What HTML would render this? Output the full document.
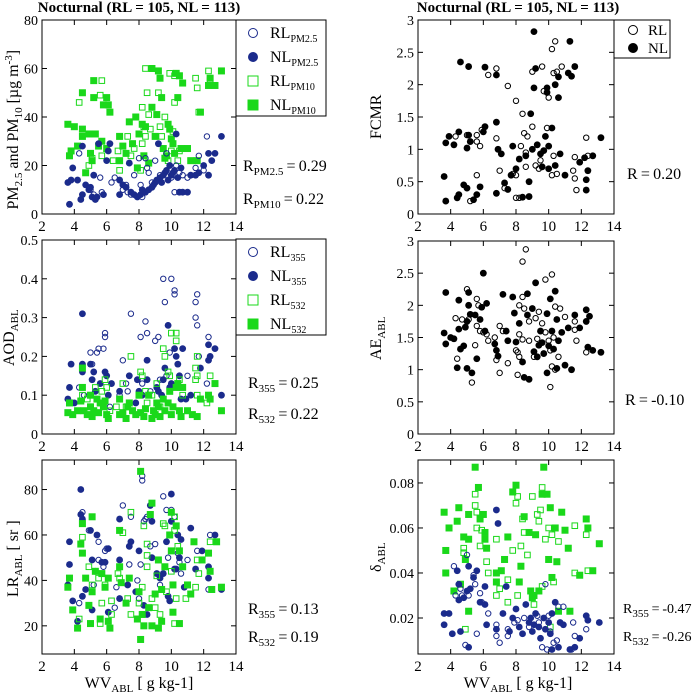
<!DOCTYPE html>
<html><head><meta charset="utf-8"><style>
html,body{margin:0;padding:0;background:#fff;}
svg, svg text{font-family:"Liberation Serif","DejaVu Serif",serif;}
</style></head><body>
<svg id="c" width="695" height="695" viewBox="0 0 695 695" font-family="Liberation Serif, serif"></svg>
<script>
// ---------- data ----------
const pm25RL=[[4.3,25],[5.6,15],[5.7,9],[6.3,13],[6.5,15],[6.8,14],[7,10],[7.2,12],[7.5,8],[7.7,16],[8,23],[8.2,7],[8.1,12],[8.4,23],[8.6,17],[8.8,13],[9,22],[9.3,16],[9.7,25],[10.2,9],[10.3,20],[10.5,17],[10.7,16],[11.5,19],[11.7,24],[12.2,32],[9.9,20],[10,15],[8.5,19],[7.3,9],[5,10],[5.2,8],[11,15],[12,18]];
const pm25NL=[[3.6,13],[3.7,4],[3.8,14],[3.9,19],[4.2,14],[4.4,6],[4.5,8],[4.5,28],[4.7,12],[4.9,10],[5,11],[5.1,7],[5.2,16],[5.3,6],[5.4,7],[5.5,29],[5.8,8],[6,22],[6.1,26],[6.2,29],[6.8,14],[6.8,8],[7,12],[7.2,11],[7.4,21],[7.5,9],[7.7,8],[7.9,7],[8.1,8],[8.2,10],[8.4,9],[8.6,10],[8.8,11],[9,13],[9.1,14],[9.2,29],[9.3,15],[9.5,16],[9.6,17],[9.7,18],[9.8,14],[9.9,20],[10,16],[10.1,17],[10.2,18],[10.3,33],[10.4,15],[10.5,9],[10.7,9],[11,9],[11.2,16],[11.5,16],[11.7,17],[12,20],[12.3,16],[12.3,25],[12.5,22],[12.7,25],[13.1,32],[8.9,12],[9.4,13],[10.6,19]];
const pm10RL=[[4.3,46],[4.9,20],[5.1,23],[5.7,55],[5.6,49],[5.7,24],[6.4,22],[6.7,26],[6.8,18],[7.3,32],[7.5,24],[7.7,27],[8.2,44],[8.2,29],[8.3,36],[8.4,60],[8.4,32],[8.5,50],[8.6,41],[8.7,35],[9.2,50],[9.3,36],[9.4,32],[9.6,40],[9.9,58],[10,26],[10.2,46],[10.2,57],[10.4,22],[10.5,26],[11.5,56],[11.6,52],[11.7,42],[12.3,59],[12.4,55],[9.8,22],[10.1,34],[8.1,18]];
const pm10NL=[[3.6,37],[3.7,24],[3.8,26],[4,36],[4.2,28],[4.5,35],[4.5,50],[4.5,32],[4.7,17],[4.9,33],[5,25],[5.1,22],[5.2,55],[5.2,48],[5.3,33],[5.5,28],[5.7,30],[5.8,45],[6,48],[6.1,45],[6.2,42],[6.0,27],[6.8,32],[6.8,22],[7.0,28],[7.2,25],[7.4,38],[7.6,29],[7.8,40],[7.9,19],[8.0,33],[8.2,37],[8.3,24],[8.4,36],[8.6,21],[8.8,60],[8.8,44],[9.0,32],[9.1,41],[9.2,59],[9.3,56],[9.4,48],[9.5,27],[9.6,23],[9.8,37],[9.9,35],[10.0,31],[10.1,29],[10.3,58],[10.4,48],[10.5,57],[10.6,27],[10.7,54],[11.0,27],[11.2,22],[11.6,22],[11.8,42],[12.3,53],[12.4,56],[12.7,53],[13.1,59],[9.7,24],[10.2,25]];
const aod355RL=[[4.3,0.12],[4.6,0.1],[5,0.21],[5.1,0.18],[5.4,0.21],[5.5,0.22],[5.8,0.22],[5.9,0.26],[5.9,0.25],[6.2,0.07],[6.8,0.1],[7,0.19],[7.2,0.13],[7.3,0.11],[7.5,0.31],[8.1,0.25],[8.2,0.13],[8.4,0.29],[8.5,0.26],[8.5,0.19],[9,0.24],[9.2,0.25],[9.5,0.4],[9.6,0.34],[9.8,0.28],[10,0.4],[10.2,0.37],[10.2,0.36],[9.9,0.21],[9.7,0.15],[11,0.15],[11.5,0.34],[11.5,0.3],[11.6,0.36],[11.6,0.28],[11.7,0.2],[12.3,0.25],[12.2,0.13],[8.7,0.11],[9.3,0.14],[10.4,0.12]];
const aod355NL=[[3.6,0.09],[3.7,0.12],[3.8,0.18],[4,0.08],[4.5,0.31],[4.5,0.18],[4.5,0.16],[5,0.18],[5.1,0.14],[5.2,0.16],[5.3,0.11],[5.6,0.13],[5.9,0.16],[6,0.15],[6.1,0.1],[6.3,0.13],[6.8,0.11],[7.4,0.15],[7.8,0.08],[7.9,0.14],[8,0.11],[8.2,0.1],[8.5,0.14],[8.5,0.19],[9.2,0.11],[9.4,0.1],[9.5,0.14],[9.6,0.17],[9.8,0.28],[9.9,0.12],[10,0.13],[10.2,0.22],[10.3,0.2],[10.4,0.18],[10.5,0.15],[10.7,0.22],[10.9,0.09],[11.2,0.1],[11.8,0.17],[12.3,0.23],[12.3,0.19],[12.4,0.2],[12.7,0.22],[13.1,0.1],[10.6,0.09],[9.1,0.12]];
const aod532RL=[[4.5,0.1],[4.8,0.09],[5.3,0.12],[5.7,0.11],[5.9,0.14],[6,0.12],[6.2,0.06],[7,0.13],[7.2,0.07],[7.5,0.2],[8.1,0.16],[8.2,0.15],[8.4,0.11],[8.5,0.08],[9.1,0.13],[9.5,0.22],[9.6,0.2],[9.8,0.16],[9.9,0.15],[10,0.26],[10.3,0.26],[10.3,0.24],[10.5,0.14],[10.7,0.1],[11.5,0.17],[11.5,0.14],[11.6,0.15],[11.6,0.2],[11.6,0.1],[12.2,0.08],[12.4,0.15],[9.3,0.07],[6.6,0.07],[8.8,0.1]];
const aod532NL=[[3.6,0.055],[3.7,0.08],[3.9,0.05],[4.2,0.06],[4.5,0.17],[4.4,0.085],[4.5,0.12],[4.6,0.06],[4.8,0.05],[5,0.1],[5,0.07],[5.1,0.045],[5.2,0.06],[5.4,0.09],[5.6,0.08],[5.8,0.07],[5.9,0.085],[6,0.05],[6.1,0.04],[6.8,0.09],[6.8,0.05],[7,0.055],[7.2,0.04],[7.4,0.08],[7.6,0.06],[7.8,0.05],[8,0.1],[8.1,0.055],[8.3,0.045],[8.4,0.065],[8.6,0.1],[8.8,0.04],[9,0.05],[9.2,0.07],[9.3,0.045],[9.5,0.09],[9.6,0.06],[9.8,0.08],[9.9,0.11],[10,0.05],[10.1,0.07],[10.3,0.12],[10.4,0.13],[10.5,0.06],[10.6,0.045],[10.7,0.12],[11,0.06],[11.3,0.05],[11.6,0.045],[11.8,0.09],[12.3,0.1],[12.4,0.09],[12.7,0.13],[13.1,0.06],[9.1,0.08],[8.9,0.06],[7.3,0.07],[5.5,0.055]];
const lr355RL=[[4.3,30],[4.5,70],[4.9,62],[5.2,38],[5.5,57],[5.5,49],[5.8,46],[5.9,53],[6,54],[6.5,28],[7,73],[7.5,68],[7.4,47],[8,32],[8.1,47],[8.2,84],[8.2,86],[8.3,66],[8.4,67],[8.5,68],[8.7,55],[9,56],[9.2,49],[9.5,77],[9.7,71],[9.8,50],[10,71],[10.2,68],[10.4,52],[10.5,48],[10.6,43],[11,49],[11.6,53],[12.3,36],[12.4,60],[9.3,38],[7.9,40],[6.6,37]];
const lr355NL=[[3.6,38],[3.7,57],[3.7,47],[3.9,31],[4.2,22],[4.4,80],[4.4,69],[4.5,67],[4.5,33],[4.7,36],[5,62],[5.1,49],[5.1,27],[5.3,44],[5.4,60],[5.7,48],[5.9,48],[6.1,54],[6.1,26],[6.8,67],[6.8,49],[6.8,32],[7.3,38],[7.5,57],[7.4,55],[7.8,35],[8,53],[8.3,29],[8.5,25],[8.7,73],[8.8,66],[8.8,50],[9.1,43],[9.3,41],[9.5,43],[9.7,57],[9.8,33],[10,78],[10,66],[10.2,45],[10.3,45],[10.4,60],[10.5,50],[10.6,58],[11.2,63],[11.5,45],[11.9,53],[12.3,46],[12.3,41],[12.7,60],[13.1,36],[9.9,31],[10.8,37]];
const lr532RL=[[4.3,23],[4.5,59],[4.9,46],[5.1,38],[5.5,41],[5.6,21],[5.7,30],[5.9,38],[6.3,31],[6.3,25],[6.7,43],[6.8,41],[7,61],[7.3,32],[7.5,70],[7.5,25],[8,30],[8.2,37],[8.3,64],[8.5,51],[8.5,56],[8.5,46],[8.8,32],[9.1,42],[9.3,25],[9.5,65],[9.6,64],[9.7,35],[10,44],[10.2,68],[10.2,21],[10.2,62],[10.3,32],[10.4,55],[10.9,32],[11.5,37],[11.6,49],[11.7,43],[12.4,57],[9,28]];
const lr532NL=[[3.6,37],[3.7,41],[3.9,27],[4.2,19],[4.4,56],[4.5,65],[4.5,52],[4.7,41],[4.9,29],[5,21],[5.1,68],[5.1,35],[5.3,44],[5.6,23],[5.7,43],[5.9,37],[6.1,22],[6.1,41],[6.2,19],[6.8,62],[6.8,46],[6.9,39],[7.2,30],[7.4,41],[7.9,23],[8,35],[8.1,88],[8.1,14],[8.2,25],[8.3,20],[8.7,69],[8.8,74],[8.8,20],[9,34],[9.2,49],[9.2,19],[9.4,22],[9.6,46],[9.9,60],[10,70],[10,53],[10.1,38],[10.1,26],[10.3,64],[10.5,53],[10.5,21],[10.7,46],[11,38],[11.2,34],[11.4,57],[11.9,49],[12.3,52],[12.4,44],[12.5,36],[12.8,57],[13.1,37],[9.4,36],[8.6,28]];
const fcmrRL=[[4.3,1.2],[5,1.22],[5.6,1.22],[5.6,1.12],[5.8,1.05],[5.9,1.3],[6.1,1.35],[6.3,2.15],[6.8,2.25],[6.8,1.17],[7.3,0.4],[7.5,1.98],[7.8,0.62],[8,1.75],[8,0.6],[8,0.25],[8.2,0.25],[8.3,1.05],[8.4,1.55],[8.5,1.25],[8.6,0.95],[8.7,1.2],[9,1.35],[9,2.2],[9.2,0.75],[9.4,0.7],[9.6,2.28],[9.7,1.9],[10,1.8],[10.2,2.55],[10.4,2.67],[10.3,2.18],[10.5,2.2],[10.8,2.28],[10.2,0.6],[10.3,0.9],[10.5,0.62],[11.5,0.67],[11.6,0.88],[11.7,0.37],[11.6,0.55],[12.3,1.18],[12.4,0.9],[5.2,0.2],[5.6,0.6],[7,0.67],[8.6,0.73],[9.9,1.33],[9.5,0.83]];
const fcmrNL=[[3.6,0.58],[3.7,1.1],[3.7,0.2],[3.9,1.2],[4.2,1.07],[4.4,0.25],[4.5,0.3],[4.5,1.27],[4.6,2.35],[4.8,0.45],[5,1.02],[5,0.4],[5.1,2.28],[5.1,1.22],[5.2,1.12],[5.4,0.22],[5.6,0.3],[5.8,0.42],[6,1.27],[6.1,2.27],[6.1,1.35],[6.8,1.42],[6.8,2.15],[6.8,0.32],[6.9,1],[7.1,0.93],[7.3,0.48],[7.5,0.38],[7.7,0.6],[7.8,1.05],[8,0.7],[8.2,0.85],[8.4,0.26],[8.6,0.9],[8.8,0.5],[8.9,1.55],[9,1],[9.1,2.82],[9.1,1.95],[9.2,2.25],[9.3,1.07],[9.5,0.93],[9.6,0.73],[9.7,0.98],[9.9,1.95],[10,1.05],[10,0.7],[10.2,1.33],[10.4,0.75],[10.6,2.12],[10.6,1.8],[10.7,0.93],[11,0.6],[11.2,2.18],[11.3,2.67],[11.6,2.28],[11.4,2.13],[11.9,0.8],[12.2,0.87],[12.3,0.37],[12.3,0.53],[12.4,0.67],[12.7,0.9],[13.2,1.18],[10.4,2.0],[9.9,1.88],[8.8,0.27],[9.8,1.2]];
const aeRL=[[4.3,1.8],[4.4,1.17],[4.7,1.78],[5,2.25],[5.1,1.78],[5.3,0.8],[5.5,1.38],[5.6,2.1],[5.7,2.0],[5.6,1.68],[5.8,1.6],[6,1.58],[6.3,1.45],[6.2,1.55],[6.8,1.15],[6.7,1.5],[7,1.68],[7,0.95],[7.2,1.6],[7.5,1.1],[8,1.3],[8.1,1.27],[8.1,0.92],[8.2,2.0],[8.2,1.55],[8.2,1.2],[8.4,2.68],[8.6,2.87],[8.4,2.13],[8.5,1.95],[8.4,1.47],[8.8,1.75],[8.8,1.45],[9.1,1.2],[9.3,1.48],[9.4,1.9],[9.6,1.72],[9.8,2.4],[9.8,1.58],[10,1.45],[10.2,2.48],[10.1,1.3],[10.1,0.73],[10.2,1.05],[10.4,1.0],[10.4,1.98],[10.6,1.2],[10.7,1.95],[11,1.82],[11.6,1.75],[11.6,1.62],[11.7,1.45],[12.3,1.27],[9.2,1.8],[10.3,1.5]];
const aeNL=[[3.6,1.57],[3.7,2.2],[3.7,1.4],[4,1.5],[4.2,1.48],[4.4,1.03],[4.5,2.08],[4.5,1.63],[4.6,1.32],[4.8,1.37],[4.9,1.66],[5,1.75],[5,1.02],[5.1,2.2],[5.1,2.0],[5.2,1.86],[5.3,0.95],[5.5,1.85],[5.6,1.17],[5.8,1.78],[5.9,1.97],[6,2.5],[6.2,2.03],[6.1,1.6],[6.7,1.4],[6.8,1.3],[6.9,1.21],[7.2,2.17],[7.4,1.6],[7.5,1.45],[7.8,2.13],[7.9,1.88],[8,1.43],[8.2,1.72],[8.4,1.12],[8.5,0.88],[8.7,1.85],[8.7,2.18],[8.8,0.85],[9.0,1.95],[9.1,1.28],[9.2,2.35],[9.3,1.2],[9.4,1.38],[9.6,1.42],[9.7,1.25],[9.9,0.95],[9.9,1.87],[10.0,1.37],[10.1,2.1],[10.2,1.6],[10.4,2.22],[10.5,1.02],[10.5,1.78],[10.6,1.45],[10.8,1.58],[11.0,1.07],[11.2,1.65],[11.4,1.0],[11.6,1.85],[11.9,1.65],[12.3,1.93],[12.3,1.75],[12.4,1.35],[12.5,1.83],[12.7,1.3],[13.2,1.27],[9.5,1.6],[10.3,1.32]];
const dep355RL=[[4.3,0.03],[4.6,0.033],[4.7,0.03],[4.9,0.008],[5,0.048],[5.1,0.03],[5.4,0.039],[5.5,0.035],[5.6,0.013],[5.8,0.031],[5.9,0.027],[6.3,0.022],[6.8,0.017],[6.8,0.012],[7.0,0.009],[7.5,0.015],[7.5,0.012],[7.9,0.018],[8.1,0.019],[8.5,0.02],[8.8,0.016],[9.3,0.021],[9.4,0.018],[9.6,0.007],[9.9,0.006],[10,0.021],[10.1,0.014],[10.3,0.009],[10.5,0.01],[10.9,0.025],[11.4,0.006],[11.5,0.018],[11.6,0.012],[12.3,0.015],[10.6,0.025],[9.8,0.035],[4.2,0.043]];
const dep355NL=[[3.6,0.022],[3.6,0.017],[3.9,0.022],[4.1,0.013],[4.4,0.041],[4.5,0.035],[4.5,0.028],[4.6,0.014],[4.8,0.029],[5,0.032],[5.1,0.043],[5.2,0.033],[5.4,0.038],[5.1,0.007],[5.6,0.041],[5.8,0.027],[6.1,0.026],[6.1,0.034],[6.2,0.017],[6.8,0.068],[6.9,0.062],[6.8,0.015],[7.2,0.022],[7.4,0.034],[7.6,0.014],[7.8,0.02],[8.0,0.024],[8.2,0.016],[8.4,0.013],[8.6,0.026],[8.8,0.018],[9.0,0.014],[9.2,0.022],[9.4,0.016],[9.5,0.011],[9.7,0.02],[9.8,0.015],[10.0,0.018],[10.2,0.022],[10.2,0.006],[10.4,0.027],[10.6,0.007],[10.7,0.018],[10.9,0.017],[11.3,0.006],[11.6,0.007],[11.9,0.011],[12.3,0.021],[12.4,0.019],[13.1,0.018],[8.9,0.02],[9.1,0.017],[10.1,0.013]];
const dep532RL=[[4.8,0.051],[4.8,0.049],[4.9,0.015],[5.5,0.075],[5.5,0.07],[5.6,0.067],[5.6,0.06],[5.8,0.052],[5.9,0.059],[6.2,0.045],[6.3,0.04],[6.8,0.055],[6.8,0.03],[7,0.033],[7.3,0.046],[7.5,0.027],[7.5,0.037],[7.8,0.05],[8,0.071],[8.1,0.074],[8.1,0.03],[8.3,0.052],[8.4,0.064],[8.5,0.058],[8.7,0.048],[9,0.074],[9.3,0.066],[9.4,0.063],[9.5,0.068],[9.6,0.078],[9.6,0.034],[9.8,0.055],[10,0.06],[10.1,0.016],[10.2,0.057],[10.3,0.036],[10.6,0.054],[11.6,0.061],[11.6,0.04],[12.3,0.057],[12.4,0.041],[9.1,0.026]];
const dep532NL=[[3.6,0.067],[3.7,0.05],[3.7,0.04],[3.9,0.06],[4.2,0.032],[4.4,0.063],[4.5,0.069],[4.6,0.035],[4.8,0.056],[4.9,0.046],[5.1,0.066],[5.1,0.055],[5.1,0.023],[5.5,0.087],[5.7,0.078],[5.8,0.064],[6,0.066],[6.1,0.058],[6.2,0.051],[6.1,0.055],[6.8,0.04],[6.8,0.036],[7.1,0.041],[7.3,0.046],[7.5,0.056],[7.8,0.076],[8,0.079],[8.2,0.036],[8.3,0.043],[8.5,0.065],[8.8,0.058],[8.9,0.032],[9.1,0.03],[9.2,0.057],[9.4,0.032],[9.6,0.075],[9.7,0.087],[9.9,0.075],[10.0,0.046],[10.1,0.069],[10.2,0.038],[10.4,0.06],[10.6,0.023],[10.8,0.067],[11.0,0.059],[11.2,0.051],[11.3,0.023],[11.9,0.039],[12.3,0.064],[12.4,0.06],[12.7,0.041],[13.1,0.053],[9.0,0.029],[10.5,0.045]];
const xTicks=[2,4,6,8,10,12,14];
const pmTicks=[0,20,40,60,80];
const aodTicks=[0,0.1,0.2,0.3,0.4,0.5];
const lrTicks=[20,40,60,80];
const fcmrTicks=[0,0.5,1,1.5,2,2.5,3];
const aeTicks=[0,0.5,1,1.5,2,2.5,3];
const depTicks=[0.02,0.04,0.06,0.08];

// ---------- drawing ----------
const NS="http://www.w3.org/2000/svg";
const svg=document.getElementById('c');
const BLUE="#1b2b8c", GREEN="#1ad81a";
const FF="Liberation Serif, serif";
function el(tag,attrs,parent){const e=document.createElementNS(NS,tag);for(const k in attrs)e.setAttribute(k,attrs[k]);(parent||svg).appendChild(e);return e;}
function txt(x,y,s,anchor,size,parent){const t=el('text',{x:x,y:y,'text-anchor':anchor||'start','font-size':size||14,fill:'#000','font-family':FF},parent);t.textContent=s;return t;}
function sub(t,main,subs,subSize){t.textContent='';const a=document.createElementNS(NS,'tspan');a.textContent=main;t.appendChild(a);const b=document.createElementNS(NS,'tspan');b.setAttribute('dy','4');b.setAttribute('font-size',subSize||10);b.textContent=subs;t.appendChild(b);return b;}

function panel(name,L,T,R,B,xmin,xmax,ymin,ymax,yt,yfmt){
  const g=el('g',{});
  
  
  const xs=v=>L+(v-xmin)/(xmax-xmin)*(R-L);
  const ys=v=>B-(v-ymin)/(ymax-ymin)*(B-T);
  const frame=el('rect',{x:L,y:T,width:R-L,height:B-T,fill:'none',stroke:'#000','stroke-width':1},g);
  
  
  xTicks.forEach(v=>{const x=xs(v);
    el('line',{x1:x,y1:B,x2:x,y2:B-5,stroke:'#000'},g);el('line',{x1:x,y1:T,x2:x,y2:T+5,stroke:'#000'},g);
    const t=txt(x,B+17,String(v),'middle',15,g);
    
    });
  yt.forEach(v=>{const y=ys(v);
    el('line',{x1:L,y1:y,x2:L+5,y2:y,stroke:'#000'},g);el('line',{x1:R,y1:y,x2:R-5,y2:y,stroke:'#000'},g);
    const t=txt(L-4,y+5,yfmt?yfmt(v):String(v),'end',14,g);
    
    });
  return {g,xs,ys};
}
function series(p,data,kind,color,name){
  const g=el('g',{},p.g);
  
  
  data.forEach(d=>{const x=p.xs(d[0]),y=p.ys(d[1]);let m;
    if(kind==='oc')m=el('circle',{cx:x,cy:y,r:2.7,fill:'none',stroke:color,'stroke-width':1},g);
    else if(kind==='fc')m=el('circle',{cx:x,cy:y,r:3.4,fill:color},g);
    else if(kind==='os')m=el('rect',{x:x-2.8,y:y-2.8,width:5.6,height:5.6,fill:'none',stroke:color,'stroke-width':1},g);
    else m=el('rect',{x:x-3.5,y:y-3.5,width:7,height:7,fill:color},g);
    
    });
}
function legendMarker(g,kind,color,x,y){
  if(kind==='oc')el('circle',{cx:x,cy:y,r:4.5,fill:'none',stroke:color,'stroke-width':1},g);
  else if(kind==='fc')el('circle',{cx:x,cy:y,r:5,fill:color},g);
  else if(kind==='os')el('rect',{x:x-5,y:y-5,width:10,height:10,fill:'none',stroke:color,'stroke-width':1},g);
  else el('rect',{x:x-5.5,y:y-5.5,width:11,height:11,fill:color},g);
}
function legend4(name,T,entries){
  const g=el('g',{});
  
  
  el('rect',{x:236,y:T,width:90,height:96,fill:'#fff',stroke:'#000'},g);
  entries.forEach((e,i)=>{const y=T+13+i*24;legendMarker(g,e[0],e[1],253,y);
    const t=txt(270,y+5,'','start',16,g);sub(t,e[2],e[3],10);
    
    });
}
function rtext(x,y,main,s,val,name,size){
  const t=txt(x,y,'','start',size||16);const b=sub(t,main,s,11);
  const c=document.createElementNS(NS,'tspan');c.setAttribute('dy','-4');c.textContent='\u2009=\u2009'+val;t.appendChild(c);
  
  
}
function ylabel(x,cy,parts,name,len){
  const g=el('g',{transform:`translate(${x},${cy}) rotate(-90)`});
  
  
  const t=el('text',{x:-len/2,y:0,'text-anchor':'start','font-size':16,'font-family':FF,fill:'#000'},g);
  let cur=0;
  parts.forEach(p=>{const s=document.createElementNS(NS,'tspan');const sh=p[2]||0;
    s.setAttribute('dy',String(sh-cur));cur=sh;
    if(p[1])s.setAttribute('font-size',p[1]);s.textContent=p[0];t.appendChild(s);});
}

// titles
let t1=txt(139,12,'Nocturnal (RL = 105, NL = 113)','middle',15);t1.setAttribute('font-weight','bold');


let t2=txt(518,12,'Nocturnal (RL = 105, NL = 113)','middle',15);t2.setAttribute('font-weight','bold');



// Panel 1: PM
const p1=panel('pm-panel',42,20,236,214,2,14,0,80,pmTicks);
series(p1,pm10RL,'os',GREEN,'rl-pm10');series(p1,pm10NL,'fs',GREEN,'nl-pm10');
series(p1,pm25RL,'oc',BLUE,'rl-pm25');series(p1,pm25NL,'fc',BLUE,'nl-pm25');
legend4('pm-legend',20,[['oc',BLUE,'RL','PM2.5'],['fc',BLUE,'NL','PM2.5'],['os',GREEN,'RL','PM10'],['fs',GREEN,'NL','PM10']]);
rtext(243,171,'R','PM2.5','0.29','r-pm25');rtext(243,204,'R','PM10','0.22','r-pm10');
ylabel(18,117,[['PM',16,0],['2.5',11,4],[' and PM',16,0],['10',11,4],[' [\u00b5g m',16,0],['-3',11,-6],[']',16,0]],'pm-y-axis-title',185);

// Panel 2: AOD
const p2=panel('aod-panel',42,240,236,434,2,14,0,0.5,aodTicks,v=>v===0?'0':v.toFixed(1));
series(p2,aod355RL,'oc',BLUE,'rl-aod355');series(p2,aod355NL,'fc',BLUE,'nl-aod355');
series(p2,aod532RL,'os',GREEN,'rl-aod532');series(p2,aod532NL,'fs',GREEN,'nl-aod532');
legend4('aod-legend',239,[['oc',BLUE,'RL','355'],['fc',BLUE,'NL','355'],['os',GREEN,'RL','532'],['fs',GREEN,'NL','532']]);
rtext(248,388,'R','355','0.25','r-aod355');rtext(248,419,'R','532','0.22','r-aod532');
ylabel(14,337,[['AOD',16,0],['ABL',11,4]],'aod-y-axis-title',58);

// Panel 3: LR
const p3=panel('lr-panel',42,460,236,654,2,14,7.6,93,lrTicks);
series(p3,lr355RL,'oc',BLUE,'rl-lr355');series(p3,lr355NL,'fc',BLUE,'nl-lr355');
series(p3,lr532RL,'os',GREEN,'rl-lr532');series(p3,lr532NL,'fs',GREEN,'nl-lr532');
rtext(248,614,'R','355','0.13','r-lr355');rtext(248,642,'R','532','0.19','r-lr532');
ylabel(18,557,[['LR',16,0],['ABL',11,4],[' [ sr ]',16,0]],'lr-y-axis-title',80);
let xl1=txt(139,688,'','middle',16);sub(xl1,'WV','ABL',11);
{const c=document.createElementNS(NS,'tspan');c.setAttribute('dy','-4');c.textContent=' [ g kg-1]';xl1.appendChild(c);}



// Panel 4: FCMR
const p4=panel('fcmr-panel',418,20,614,214,2,14,0,3,fcmrTicks);
series(p4,fcmrRL,'oc','#000','rl-fcmr');series(p4,fcmrNL,'fc','#000','nl-fcmr');
{const g=el('g',{});
 el('rect',{x:614,y:20,width:56,height:38,fill:'#fff',stroke:'#000'},g);
 legendMarker(g,'oc','#000',633,30);legendMarker(g,'fc','#000',633,48);
 txt(648,35,'RL','start',15,g);txt(648,53,'NL','start',15,g);}
{const t=txt(627,179,'R\u2009=\u20090.20','start',16);}
ylabel(381,117,[['FCMR',16,0]],'fcmr-y-axis-title',44);

// Panel 5: AE
const p5=panel('ae-panel',418,241,614,434,2,14,0,3,aeTicks);
series(p5,aeRL,'oc','#000','rl-ae');series(p5,aeNL,'fc','#000','nl-ae');
{const t=txt(625,405,'R\u2009=\u2009-0.10','start',16);}
ylabel(381,338,[['AE',16,0],['ABL',11,4]],'ae-y-axis-title',44);

// Panel 6: depolarization
const p6=panel('depol-panel',418,460,614,654,2,14,0.004,0.0902,depTicks,v=>v.toFixed(2));
series(p6,dep532RL,'os',GREEN,'rl-dep532');series(p6,dep532NL,'fs',GREEN,'nl-dep532');
series(p6,dep355RL,'oc',BLUE,'rl-dep355');series(p6,dep355NL,'fc',BLUE,'nl-dep355');
rtext(623,613,'R','355','-0.47','r-dep355',14);rtext(623,641,'R','532','-0.26','r-dep532',14);
ylabel(381,557,[['\u03b4',16,0],['ABL',11,4]],'depol-y-axis-title',30);
let xl2=txt(518,688,'','middle',16);sub(xl2,'WV','ABL',11);
{const c=document.createElementNS(NS,'tspan');c.setAttribute('dy','-4');c.textContent=' [ g kg-1]';xl2.appendChild(c);}


</script>
</body></html>
